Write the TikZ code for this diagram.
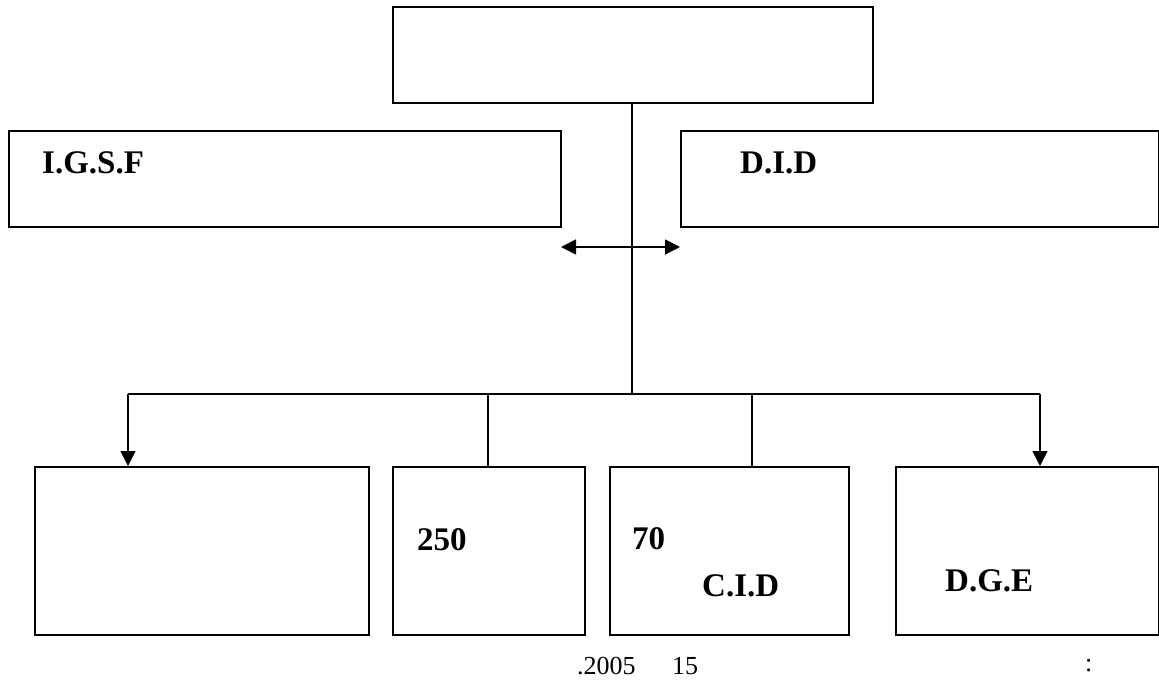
\documentclass[tikz,border=0pt]{standalone}
\usepackage{fontspec}
\setmainfont{Liberation Serif}
\usetikzlibrary{arrows.meta}
\begin{document}
\begin{tikzpicture}[x=1pt,y=-1pt,
  boxline/.style={draw,line width=1.7pt},
  conn/.style={line width=1.7pt},
  tip/.style={-{Triangle[length=15pt,width=15pt]}},
  lbl/.style={font=\fontsize{33}{38}\selectfont\bfseries,anchor=west,inner sep=0pt},
  note/.style={font=\fontsize{26}{30}\selectfont,anchor=west,inner sep=0pt}]
\useasboundingbox (0,0) rectangle (1159,682);
\node[boxline,minimum width=480pt,minimum height=96pt,anchor=north west] (top) at (392,6) {};
\node[boxline,minimum width=552pt,minimum height=96pt,anchor=north west] (igsf) at (8,130) {};
\node[boxline,minimum width=478pt,minimum height=96pt,anchor=north west] (did) at (680,130) {};
\node[boxline,minimum width=334pt,minimum height=168pt,anchor=north west] (b1) at (34,466) {};
\node[boxline,minimum width=192pt,minimum height=168pt,anchor=north west] (b2) at (392,466) {};
\node[boxline,minimum width=239pt,minimum height=168pt,anchor=north west] (b3) at (609,466) {};
\node[boxline,minimum width=263pt,minimum height=168pt,anchor=north west] (b4) at (895,466) {};
\node[lbl] (t1) at (42,163) {I.G.S.F};
\node[lbl] (t2) at (740,163) {D.I.D};
\node[lbl] (t3) at (417,540) {250};
\node[lbl] (t4) at (632,539) {70};
\node[lbl] (t5) at (702,586) {C.I.D};
\node[lbl] (t6) at (945,581) {D.G.E};
\node[note] (n1) at (577,666) {.2005};
\node[note] (n2) at (672,666) {15};
\node[note] (n3) at (1085,666) {:};
\coordinate (j) at (632,394);
\coordinate (jl) at (128,394);
\coordinate (jr) at (1040,394);
\coordinate (m2) at (488,394);
\coordinate (m3) at (752,394);
\coordinate (al) at (561,247);
\coordinate (ar) at (680,247);
\draw[conn] (top.south -| j) -- (j);
\draw[conn] (jl) -- (jr);
\draw[conn,tip] (jl) -- (b1.north -| jl);
\draw[conn,tip] (jr) -- (b4.north -| jr);
\draw[conn] (m2) -- (b2.north -| m2);
\draw[conn] (m3) -- (b3.north -| m3);
\draw[conn,{Triangle[length=15pt,width=15pt]}-{Triangle[length=15pt,width=15pt]}] (al) -- (ar);
\end{tikzpicture}
\end{document}
